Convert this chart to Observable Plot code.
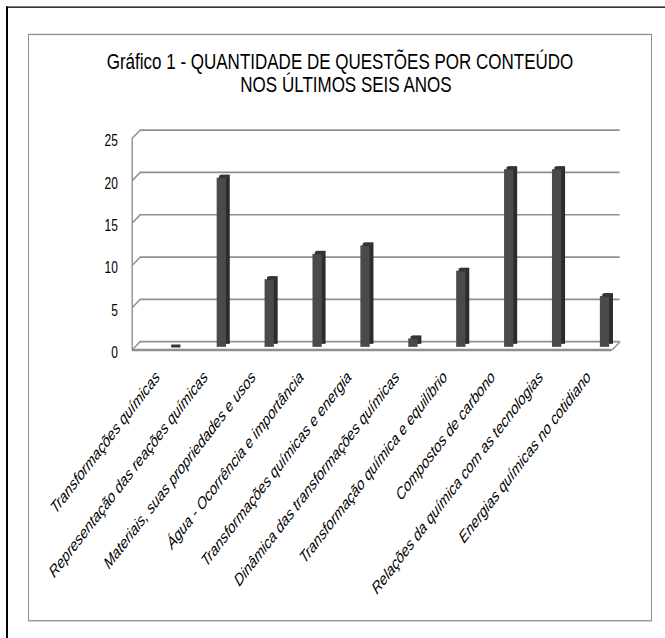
<!DOCTYPE html>
<html><head><meta charset="utf-8">
<script src="https://cdn.jsdelivr.net/npm/d3@7"></script>
<script src="https://cdn.jsdelivr.net/npm/@observablehq/plot@0.6"></script>
<style>
html{margin:0;padding:0;background:#fff;overflow:hidden;}
body{margin:0;padding:0;background:#fff;width:665px;height:638px;position:relative;}
#page{position:absolute;left:0;top:0;width:665px;height:491px;transform:scaleY(1.3);transform-origin:0 0;font-family:"Liberation Sans",Arial,sans-serif;}
#chart{position:absolute;left:0;top:0;}
#outer{position:absolute;left:6px;top:4.6px;width:800px;height:800px;border-left:2px solid #000;border-top:1.7px solid #000;}
#inner{position:absolute;left:28px;top:26.4px;width:624px;height:451.8px;box-sizing:border-box;border:1.3px solid #8e8e8e;}
.t{position:absolute;width:624px;text-align:center;font-size:17px;line-height:17px;color:#000;white-space:nowrap;}
</style>
</head>
<body>
<div id="page">
  <div id="chart"></div>
  <div id="outer"></div>
  <div id="inner"></div>
  <div class="t" style="left:28px;top:39.4px;">Gráfico 1 - QUANTIDADE DE QUESTÕES POR CONTEÚDO</div>
  <div class="t" style="left:34px;top:57.4px;">NOS ÚLTIMOS SEIS ANOS</div>
</div>
<script>
const categories = [
  "Transformações químicas",
  "Representação das reações químicas",
  "Materiais, suas propriedades e usos",
  "Água - Ocorrência e importância",
  "Transformações químicas e energia",
  "Dinâmica das transformações químicas",
  "Transformação química e equilíbrio",
  "Compostos de carbono",
  "Relações da química com as tecnologias",
  "Energias químicas no cotidiano"
];
const values = [0, 20, 8, 11, 12, 1, 9, 21, 21, 6];
const yTicks = [0, 5, 10, 15, 20, 25];

const data = categories.map((c, i) => ({i, c, v: values[i]}));

// scale / 3D depth configuration
const X0 = -0.871, X1 = 9.150;      // x domain (category index space)
const DX = 0.167, DY = 0.983;       // depth of the back wall in data units
const HW = 0.097;                   // half bar width in index units

const chart = Plot.plot({
  width: 665,
  height: 491,
  marginLeft: 131.7,
  marginRight: 53.3,
  marginTop: 106,
  marginBottom: 222.3,
  x: {type: "linear", domain: [X0, X1], axis: null},
  y: {domain: [0, 25], axis: null},
  style: {background: "transparent", overflow: "visible", fontFamily: "'Liberation Sans', Arial, sans-serif"},
  marks: [
    // back wall gridlines
    Plot.ruleY(yTicks, {y: d => d, dx: 8, dy: -6.4, stroke: "#8f8f8f", strokeWidth: 1.3}),
    // side wall diagonals
    Plot.link(yTicks, {x1: () => X0, x2: () => X0 + DX, y1: d => d, y2: d => d + DY, stroke: "#8f8f8f", strokeWidth: 1.3}),
    // side wall front edge
    Plot.ruleX([X0], {x: d => d, y1: 0, y2: 25, stroke: "#8f8f8f", strokeWidth: 1.4}),
    // floor front edge and right edge
    Plot.ruleY([0], {y: d => d, stroke: "#8f8f8f", strokeWidth: 1.8}),
    Plot.link([0], {x1: () => X1, x2: () => X1 + DX, y1: d => d, y2: d => d + DY, stroke: "#8f8f8f", strokeWidth: 1.3}),
    // bar sides (depth)
    Plot.rectY(data, {x1: d => d.i - HW, x2: d => d.i + HW, y1: 0, y2: "v", dx: 3.8, dy: -4.2, fill: "#2c2c2c"}),
    // bar fronts
    Plot.rectY(data, {x1: d => d.i - HW, x2: d => d.i + HW, y1: 0, y2: "v", dy: -1.9, fill: "#4a4a4a"}),
    // bar tops
    Plot.link(data, {x1: d => d.i - HW, x2: d => d.i + HW, y1: "v", y2: "v", dx: 1.9, dy: -3.05, stroke: "#363636", strokeWidth: 2.3}),
    // y tick labels
    Plot.text(yTicks, {x: () => X0, y: d => d, text: d => String(d), textAnchor: "end", dx: -14.4, dy: 2.3, fontSize: 12, fill: "#000"}),
    // x category labels
    Plot.text(data, {x: "i", frameAnchor: "bottom", text: "c", rotate: -45, textAnchor: "end", dx: -13.3, dy: 21.6, fontSize: 13, fontStyle: "italic", fill: "#000"})
  ]
});
document.getElementById("chart").appendChild(chart);
</script>
</body></html>
